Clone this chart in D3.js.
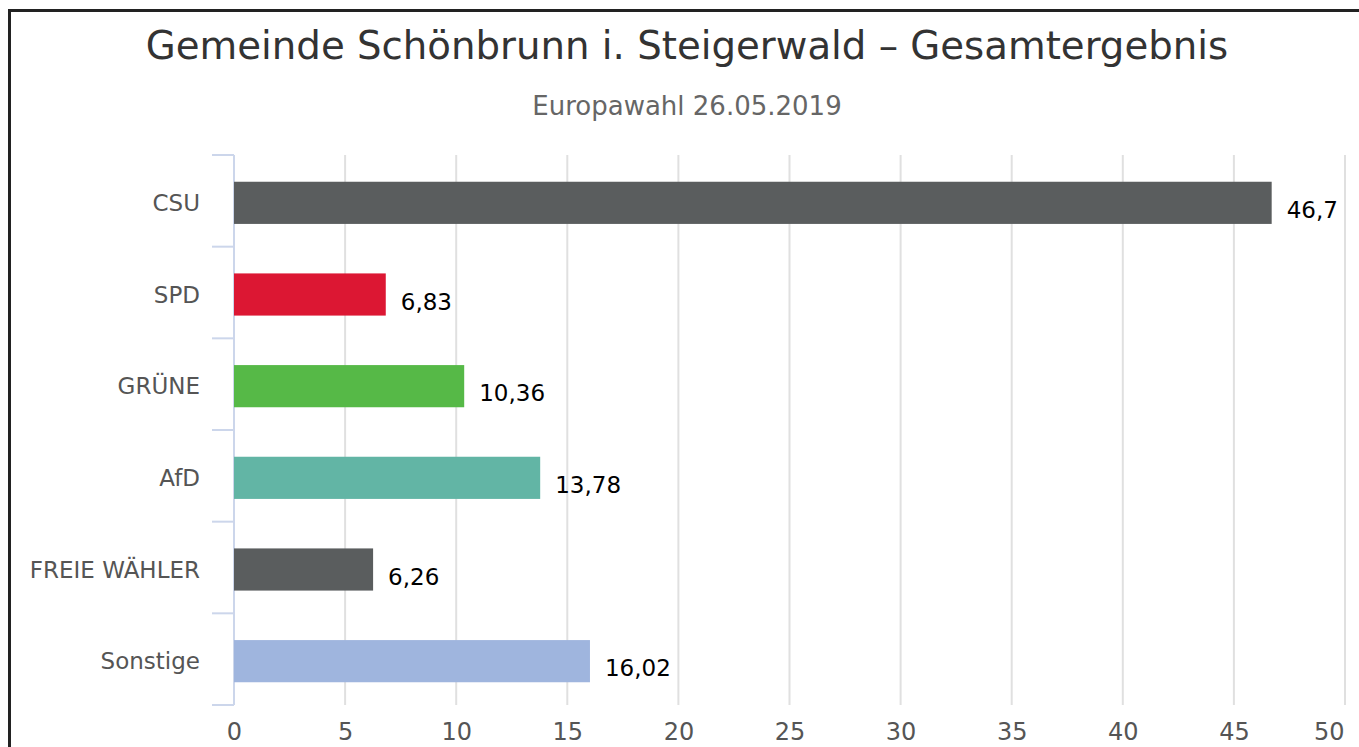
<!DOCTYPE html>
<html>
<head>
<meta charset="utf-8">
<script src="https://cdn.jsdelivr.net/npm/d3@7"></script>
<style>
  body { margin: 0; background: #fff; }
  svg { display: block; }
  text { font-family: "DejaVu Sans", Verdana, sans-serif; }
</style>
</head>
<body>
<script>
// data
const parties = ['CSU', 'SPD', 'GRÜNE', 'AfD', 'FREIE WÄHLER', 'Sonstige'];
const shares = [46.7, 6.83, 10.36, 13.78, 6.26, 16.02];
const barColors = ['#5a5d5e', '#dc1733', '#56b947', '#62b5a5', '#5a5d5e', '#9fb5de'];
const xTicks = [0, 5, 10, 15, 20, 25, 30, 35, 40, 45, 50];

const width = 1359, height = 747;

const svg = d3.select('body').append('svg')
  .attr('width', width)
  .attr('height', height);

// frame (only left and top edges show)
svg.append('rect')
  .attr('x', 9.5).attr('y', 10.5)
  .attr('width', 1400).attr('height', 800)
  .attr('fill', 'none')
  .attr('stroke', '#222')
  .attr('stroke-width', 3);

svg.append('text')
  .attr('x', 687).attr('y', 59)
  .attr('text-anchor', 'middle')
  .attr('font-size', 38.7)
  .attr('fill', '#333')
  .text('Gemeinde Schönbrunn i. Steigerwald – Gesamtergebnis');

svg.append('text')
  .attr('x', 687).attr('y', 115)
  .attr('text-anchor', 'middle')
  .attr('font-size', 26)
  .attr('fill', '#666')
  .text('Europawahl 26.05.2019');

const x = d3.scaleLinear().domain([0, 50]).range([234, 1345]);
const y = d3.scaleBand().domain(parties).range([155, 705])
  .paddingInner(0.54).paddingOuter(0.27);

// vertical grid lines
svg.append('g')
  .selectAll('line')
  .data(xTicks)
  .join('line')
  .attr('x1', d => x(d)).attr('x2', d => x(d))
  .attr('y1', 155).attr('y2', 705)
  .attr('stroke', '#e0e0e0')
  .attr('stroke-width', 2);

// x axis labels
const xAxis = svg.append('g')
  .attr('transform', 'translate(0,705)')
  .call(d3.axisBottom(x).tickValues(xTicks).tickSize(0));
xAxis.select('.domain').remove();
xAxis.selectAll('text')
  .attr('y', 35)
  .attr('dy', null)
  .attr('font-size', 24)
  .attr('font-family', '"DejaVu Sans", sans-serif')
  .attr('fill', '#555');
// last label pulled inside the edge, like the original
xAxis.selectAll('text')
  .filter(d => d === 50)
  .attr('text-anchor', 'end')
  .attr('x', -1);

// y axis line + category ticks at band edges
svg.append('line')
  .attr('x1', 234).attr('x2', 234)
  .attr('y1', 155).attr('y2', 705)
  .attr('stroke', '#ccd6eb')
  .attr('stroke-width', 2);

const edges = parties.map(p => y(p) - y.step() * y.paddingInner() / 2);
edges.push(705);
svg.append('g')
  .selectAll('line')
  .data(edges)
  .join('line')
  .attr('x1', 212).attr('x2', 234)
  .attr('y1', d => d).attr('y2', d => d)
  .attr('stroke', '#ccd6eb')
  .attr('stroke-width', 2);

svg.append('g')
  .selectAll('text')
  .data(parties)
  .join('text')
  .attr('x', 200)
  .attr('y', d => y(d) + y.bandwidth() / 2 + 2)
  .attr('dy', '0.35em')
  .attr('text-anchor', 'end')
  .attr('font-size', 23)
  .attr('fill', '#555')
  .text(d => d);

// bars
svg.append('g')
  .selectAll('rect')
  .data(parties)
  .join('rect')
  .attr('x', x(0))
  .attr('y', d => y(d) + 2)
  .attr('width', (d, i) => x(shares[i]) - x(0))
  .attr('height', y.bandwidth())
  .attr('fill', (d, i) => barColors[i]);

// value labels
svg.append('g')
  .selectAll('text')
  .data(parties)
  .join('text')
  .attr('x', (d, i) => x(shares[i]) + 15)
  .attr('y', d => y(d) + y.bandwidth() / 2 + 9)
  .attr('dy', '0.35em')
  .attr('font-size', 23)
  .attr('fill', '#000')
  .text((d, i) => String(shares[i]).replace('.', ','));
</script>
</body>
</html>
